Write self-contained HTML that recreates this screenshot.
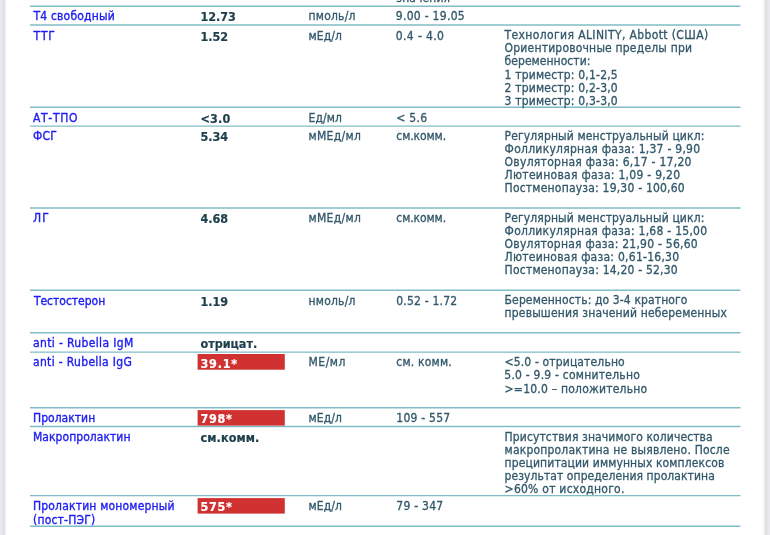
<!DOCTYPE html>
<html lang="ru"><head><meta charset="utf-8"><title>Результаты анализов</title>
<style>
html,body{margin:0;padding:0;background:#fff;}
body{width:770px;height:535px;overflow:hidden;position:relative;font-family:"DejaVu Sans Condensed", "Liberation Sans", sans-serif;font-size:12.0px;}
#bg{position:absolute;left:0;top:0;}
.c{position:absolute;white-space:nowrap;line-height:16px;height:16px;margin:0;padding:0;}
.n{color:#1c1cf2;-webkit-text-stroke:0.35px #1c1cf2;}
.v{color:#1d3e4a;font-weight:bold;font-size:12.5px;-webkit-text-stroke:0.2px #1d3e4a;}
.w{color:#fff;font-weight:bold;font-size:12.5px;-webkit-text-stroke:0.2px #fff;}
.t{color:#32586a;-webkit-text-stroke:0.3px #32586a;}
#tx{position:absolute;left:0;top:0;width:770px;height:535px;filter:blur(0.35px);}
</style></head><body>
<svg id="bg" width="770" height="535" viewBox="0 0 770 535">
<defs><linearGradient id="gl" x1="0" x2="1" y1="0" y2="0"><stop offset="0" stop-color="#e9e9ee"/><stop offset="0.42" stop-color="#e6e5eb"/><stop offset="0.55" stop-color="#d9d8de"/><stop offset="0.75" stop-color="#f1f1f3"/><stop offset="1" stop-color="#ffffff"/></linearGradient><linearGradient id="gr" x1="0" x2="1" y1="0" y2="0"><stop offset="0" stop-color="#ffffff"/><stop offset="0.25" stop-color="#f4f4f5"/><stop offset="0.5" stop-color="#dddce2"/><stop offset="0.7" stop-color="#e6e5eb"/><stop offset="1" stop-color="#e9e9ee"/></linearGradient></defs>
<rect x="0" y="0" width="7.2" height="535" fill="url(#gl)"/>
<rect x="762" y="0" width="8" height="535" fill="url(#gr)"/>
<line x1="30.0" x2="740.5" y1="6.3" y2="6.3" stroke="#80bcc5" stroke-width="1.45"/>
<line x1="30.0" x2="740.5" y1="25.0" y2="25.0" stroke="#80bcc5" stroke-width="1.45"/>
<line x1="30.0" x2="740.5" y1="107.15" y2="107.15" stroke="#80bcc5" stroke-width="1.45"/>
<line x1="30.0" x2="740.5" y1="126.1" y2="126.1" stroke="#80bcc5" stroke-width="1.45"/>
<line x1="30.0" x2="740.5" y1="208.0" y2="208.0" stroke="#80bcc5" stroke-width="1.45"/>
<line x1="30.0" x2="740.5" y1="290.3" y2="290.3" stroke="#80bcc5" stroke-width="1.45"/>
<line x1="30.0" x2="740.5" y1="332.7" y2="332.7" stroke="#80bcc5" stroke-width="1.45"/>
<line x1="30.0" x2="740.5" y1="352.1" y2="352.1" stroke="#80bcc5" stroke-width="1.45"/>
<line x1="30.0" x2="740.5" y1="407.7" y2="407.7" stroke="#80bcc5" stroke-width="1.45"/>
<line x1="30.0" x2="740.5" y1="426.4" y2="426.4" stroke="#80bcc5" stroke-width="1.45"/>
<line x1="30.0" x2="740.5" y1="495.6" y2="495.6" stroke="#80bcc5" stroke-width="1.45"/>
<line x1="30.0" x2="740.5" y1="526.2" y2="526.2" stroke="#80bcc5" stroke-width="1.45"/>
<rect x="197.6" y="354.0" width="87.2" height="15.7" fill="#d03232"/>
<rect x="197.6" y="410.1" width="87.2" height="15.5" fill="#d03232"/>
<rect x="197.6" y="498.1" width="87.2" height="15.5" fill="#d03232"/>
</svg>
<div id="tx">
<div class="c t" style="left:396.3px;top:-10.2px;letter-spacing:0.098px">значения</div>
<div class="c n" style="left:33.4px;top:8.4px;letter-spacing:0.207px">Т4 свободный</div>
<div class="c v" style="left:200.5px;top:9.0px;letter-spacing:-0.045px">12.73</div>
<div class="c t" style="left:308.5px;top:8.0px;letter-spacing:0.212px">пмоль/л</div>
<div class="c t" style="left:395.8px;top:8.2px;letter-spacing:0.292px">9.00 - 19.05</div>
<div class="c n" style="left:33.6px;top:28.0px;letter-spacing:0.759px">ТТГ</div>
<div class="c v" style="left:200.5px;top:28.7px;letter-spacing:-0.083px">1.52</div>
<div class="c t" style="left:308.5px;top:27.7px;letter-spacing:0.104px">мЕд/л</div>
<div class="c t" style="left:395.8px;top:27.9px;letter-spacing:0.378px">0.4 - 4.0</div>
<div class="c t" style="left:504.6px;top:26.9px;letter-spacing:0.382px">Технология ALINITY, Abbott (США)</div>
<div class="c t" style="left:504.6px;top:39.9px;letter-spacing:0.196px">Ориентировочные пределы при</div>
<div class="c t" style="left:504.6px;top:52.9px;letter-spacing:0.050px">беременности:</div>
<div class="c t" style="left:504.6px;top:66.8px;letter-spacing:0.194px">1 триместр: 0,1-2,5</div>
<div class="c t" style="left:504.6px;top:79.8px;letter-spacing:0.194px">2 триместр: 0,2-3,0</div>
<div class="c t" style="left:504.6px;top:92.8px;letter-spacing:0.194px">3 триместр: 0,3-3,0</div>
<div class="c n" style="left:33.0px;top:109.6px;letter-spacing:0.681px">АТ-ТПО</div>
<div class="c v" style="left:200.5px;top:110.7px;letter-spacing:0.180px">&lt;3.0</div>
<div class="c t" style="left:308.5px;top:109.6px;letter-spacing:0.104px">Ед/мл</div>
<div class="c t" style="left:396.3px;top:109.6px;letter-spacing:0.265px">&lt; 5.6</div>
<div class="c n" style="left:33.0px;top:128.3px;letter-spacing:0.239px">ФСГ</div>
<div class="c v" style="left:200.5px;top:129.0px;letter-spacing:-0.083px">5.34</div>
<div class="c t" style="left:308.5px;top:128.0px;letter-spacing:0.327px">мМЕд/мл</div>
<div class="c t" style="left:396.3px;top:128.0px;letter-spacing:-0.080px">см.комм.</div>
<div class="c t" style="left:504.6px;top:128.0px;letter-spacing:0.123px">Регулярный менструальный цикл:</div>
<div class="c t" style="left:504.6px;top:141.0px;letter-spacing:0.265px">Фолликулярная фаза: 1,37 - 9,90</div>
<div class="c t" style="left:504.6px;top:154.1px;letter-spacing:0.271px">Овуляторная фаза: 6,17 - 17,20</div>
<div class="c t" style="left:504.6px;top:167.2px;letter-spacing:0.285px">Лютеиновая фаза: 1,09 - 9,20</div>
<div class="c t" style="left:504.6px;top:180.3px;letter-spacing:0.207px">Постменопауза: 19,30 - 100,60</div>
<div class="c n" style="left:33.0px;top:210.0px;letter-spacing:1.081px">ЛГ</div>
<div class="c v" style="left:200.5px;top:210.6px;letter-spacing:-0.083px">4.68</div>
<div class="c t" style="left:308.5px;top:209.6px;letter-spacing:0.327px">мМЕд/мл</div>
<div class="c t" style="left:396.3px;top:209.6px;letter-spacing:-0.080px">см.комм.</div>
<div class="c t" style="left:504.6px;top:210.0px;letter-spacing:0.123px">Регулярный менструальный цикл:</div>
<div class="c t" style="left:504.6px;top:223.1px;letter-spacing:0.261px">Фолликулярная фаза: 1,68 - 15,00</div>
<div class="c t" style="left:504.6px;top:236.2px;letter-spacing:0.243px">Овуляторная фаза: 21,90 - 56,60</div>
<div class="c t" style="left:504.6px;top:249.0px;letter-spacing:0.257px">Лютеиновая фаза: 0,61-16,30</div>
<div class="c t" style="left:504.6px;top:262.1px;letter-spacing:0.210px">Постменопауза: 14,20 - 52,30</div>
<div class="c n" style="left:33.9px;top:292.5px;letter-spacing:-0.015px">Тестостерон</div>
<div class="c v" style="left:200.5px;top:293.5px;letter-spacing:-0.083px">1.19</div>
<div class="c t" style="left:308.5px;top:292.5px;letter-spacing:0.212px">нмоль/л</div>
<div class="c t" style="left:396.3px;top:292.5px;letter-spacing:0.209px">0.52 - 1.72</div>
<div class="c t" style="left:504.6px;top:292.3px;letter-spacing:0.121px">Беременность: до 3-4 кратного</div>
<div class="c t" style="left:504.6px;top:305.0px;letter-spacing:0.159px">превышения значений небеременных</div>
<div class="c n" style="left:33.0px;top:335.0px;letter-spacing:0.361px">anti - Rubella IgM</div>
<div class="c v" style="left:200.5px;top:336.0px;letter-spacing:-0.029px">отрицат.</div>
<div class="c n" style="left:33.0px;top:354.3px;letter-spacing:0.329px">anti - Rubella IgG</div>
<div class="c w" style="left:200.5px;top:355.5px;letter-spacing:0.769px">39.1*</div>
<div class="c t" style="left:308.5px;top:354.3px;letter-spacing:0.518px">МЕ/мл</div>
<div class="c t" style="left:396.3px;top:354.3px;letter-spacing:0.202px">см. комм.</div>
<div class="c t" style="left:504.6px;top:353.8px;letter-spacing:0.142px">&lt;5.0 - отрицательно</div>
<div class="c t" style="left:504.3px;top:366.9px;letter-spacing:0.229px">5.0 - 9.9 - сомнительно</div>
<div class="c t" style="left:504.6px;top:380.5px;letter-spacing:0.222px">&gt;=10.0 – положительно</div>
<div class="c n" style="left:33.0px;top:410.2px;letter-spacing:0.027px">Пролактин</div>
<div class="c w" style="left:200.5px;top:411.0px;letter-spacing:0.714px">798*</div>
<div class="c t" style="left:308.5px;top:410.0px;letter-spacing:0.104px">мЕд/л</div>
<div class="c t" style="left:396.3px;top:410.2px;letter-spacing:0.241px">109 - 557</div>
<div class="c n" style="left:33.0px;top:428.6px;letter-spacing:0.050px">Макропролактин</div>
<div class="c v" style="left:200.5px;top:429.5px;letter-spacing:0.092px">см.комм.</div>
<div class="c t" style="left:504.6px;top:429.1px;letter-spacing:0.111px">Присутствия значимого количества</div>
<div class="c t" style="left:504.6px;top:442.1px;letter-spacing:0.186px">макропролактина не выявлено. После</div>
<div class="c t" style="left:504.6px;top:455.2px;letter-spacing:0.114px">преципитации иммунных комплексов</div>
<div class="c t" style="left:504.6px;top:468.3px;letter-spacing:0.075px">результат определения пролактина</div>
<div class="c t" style="left:504.6px;top:481.0px;letter-spacing:0.249px">&gt;60% от исходного.</div>
<div class="c n" style="left:33.0px;top:498.0px;letter-spacing:0.180px">Пролактин мономерный</div>
<div class="c w" style="left:200.5px;top:499.0px;letter-spacing:0.714px">575*</div>
<div class="c t" style="left:308.5px;top:497.7px;letter-spacing:0.104px">мЕд/л</div>
<div class="c t" style="left:396.3px;top:497.5px;letter-spacing:0.258px">79 - 347</div>
<div class="c n" style="left:33.0px;top:512.3px;letter-spacing:0.192px">(пост-ПЭГ)</div>
</div>
</body></html>
